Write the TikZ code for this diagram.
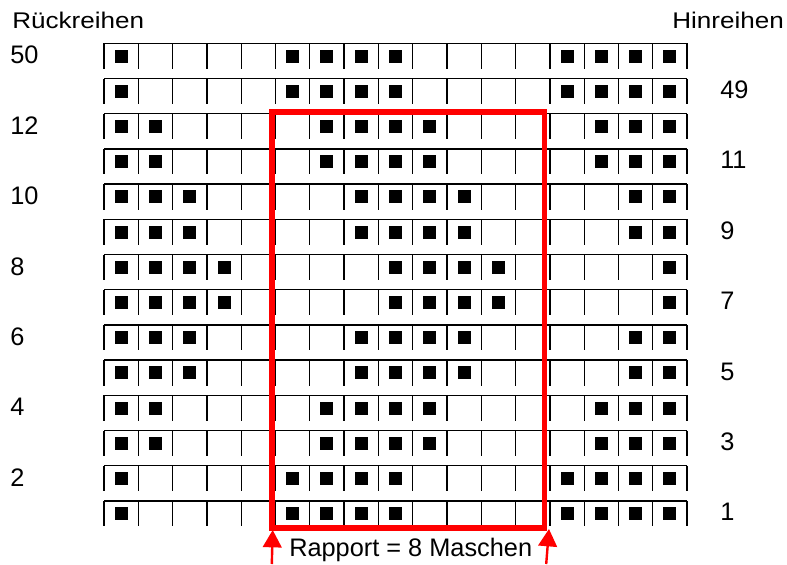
\documentclass[tikz,border=0pt]{standalone}
\usepackage{fontspec}
\setmainfont{Liberation Sans}
\newfontfamily\widesans{Liberation Sans}[FakeStretch=1.15]
\usetikzlibrary{arrows.meta}
\begin{document}
\begin{tikzpicture}[x=0.75pt,y=-0.75pt,
  gridline/.style={line width=1pt,black},
  stitch/.style={fill=black},
  lbl/.style={anchor=base west,inner sep=0pt,font=\fontsize{19}{22}\selectfont},
  head/.style={anchor=base west,inner sep=0pt,font=\widesans\fontsize{17}{20}\selectfont},
  rapport/.style={draw=red,line width=4.2pt},
  rarrow/.style={red,line width=1.8pt,-{Triangle[width=14pt,length=13pt]}}]
\path[use as bounding box] (0,0) rectangle (787,564);
% grid rows
\foreach \r in {0,...,13}{
  \draw[gridline] (104,{43.3+35.2*\r}) -- (687,{43.3+35.2*\r});
  \foreach \k in {0,...,17}{
    \draw[gridline] ({104+34.3*\k},{43.3+35.2*\r}) -- ++(0,25.5);
  }
}
% stitches
\foreach \r/\cols in {0/{1,6,7,8,9,14,15,16,17},1/{1,6,7,8,9,14,15,16,17},
  2/{1,2,7,8,9,10,15,16,17},3/{1,2,7,8,9,10,15,16,17},
  4/{1,2,3,8,9,10,11,16,17},5/{1,2,3,8,9,10,11,16,17},
  6/{1,2,3,4,9,10,11,12,17},7/{1,2,3,4,9,10,11,12,17},
  8/{1,2,3,8,9,10,11,16,17},9/{1,2,3,8,9,10,11,16,17},
  10/{1,2,7,8,9,10,15,16,17},11/{1,2,7,8,9,10,15,16,17},
  12/{1,6,7,8,9,14,15,16,17},13/{1,6,7,8,9,14,15,16,17}}{
  \foreach \c in \cols{
    \fill[stitch] ({104+34.3*(\c-0.5)-6.5},{43.3+35.2*\r+6.2}) rectangle ++(13,13);
  }
}
% labels
\node[head] (rueck) at (12,28.3) {Rückreihen};
\node[head] (hin) at (672,28.3) {Hinreihen};
\foreach \r/\t in {0/50,2/12,4/10,6/8,8/6,10/4,12/2}{
  \node[lbl] (L\t) at (10,{43.3+35.2*\r+20.5}) {\t};
}
\foreach \r/\t in {1/49,3/11,5/9,7/7,9/5,11/3,13/1}{
  \node[lbl] (R\t) at (720,{43.3+35.2*\r+20}) {\t};
}
% rapport box
\draw[rapport] (271.7,111.7) rectangle (544.5,527.8);
\coordinate (a1s) at (271.8,564);
\coordinate (a1e) at (272.7,530);
\coordinate (a2s) at (546.2,564);
\coordinate (a2e) at (549,529);
\draw[rarrow] (a1s) -- (a1e);
\draw[rarrow] (a2s) -- (a2e);
\node[lbl] (rap) at (289,556.5) {Rapport = 8 Maschen};
\end{tikzpicture}
\end{document}
